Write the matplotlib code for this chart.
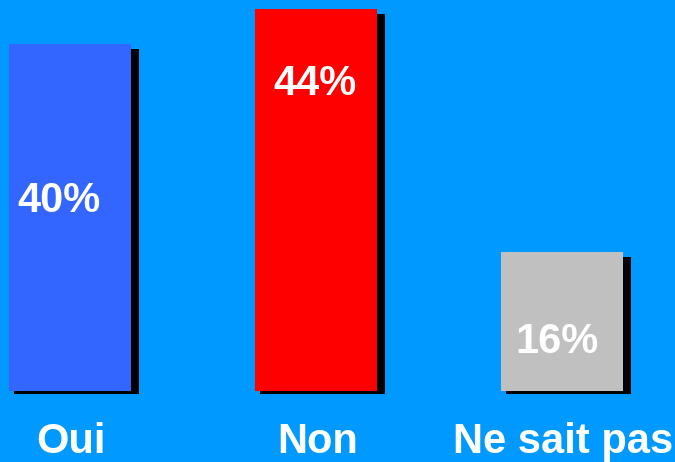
import matplotlib

matplotlib.use("Agg")
import matplotlib.pyplot as plt

categories = ["Oui", "Non", "Ne sait pas"]
values = [40, 44, 16]
value_labels = ["40%", "44%", "16%"]
bar_colors = ["#3366FF", "#FF0000", "#C0C0C0"]

# where each value label sits (x offset from bar centre, text baseline)
label_dx = [-0.045, -0.004, -0.022]
label_base = [20.6, 34.1, 4.35]

fig = plt.figure(figsize=(6.75, 4.62), dpi=100)
fig.patch.set_facecolor("#0099FF")
ax = fig.add_axes([0, 0, 1, 1])
ax.set_facecolor("#0099FF")

px_x = 1 / 246.0   # one pixel in x data units
px_y = 1 / 8.67    # one pixel in y data units
width = 122 * px_x
xs = list(range(len(categories)))

# drop shadows
for x, v in zip(xs, values):
    ax.bar(x + 6.5 * px_x, v - 2 * px_y, width=width + 3 * px_x,
           bottom=-3 * px_y, color="black", zorder=1)

ax.bar(xs, values, width=width, color=bar_colors, zorder=2)

for x, lab, dx, yb in zip(xs, value_labels, label_dx, label_base):
    ax.text(x + dx, yb, lab, ha="center", va="baseline", color="white",
            fontsize=30, fontweight="bold", family="Liberation Sans", zorder=3)

# category names under the bars (kept just inside the bottom edge)
for x, cat in zip(xs, categories):
    ax.text(x + 0.006, -7.2, cat, ha="center", va="baseline", color="white",
            fontsize=30, fontweight="bold", family="Liberation Sans", zorder=3)

ax.set_xlim(-70 * px_x, 605 * px_x)
ax.set_ylim(-71.5 * px_y, 390.5 * px_y)
ax.axis("off")

fig.savefig("out.png", dpi=100, facecolor=fig.get_facecolor())
